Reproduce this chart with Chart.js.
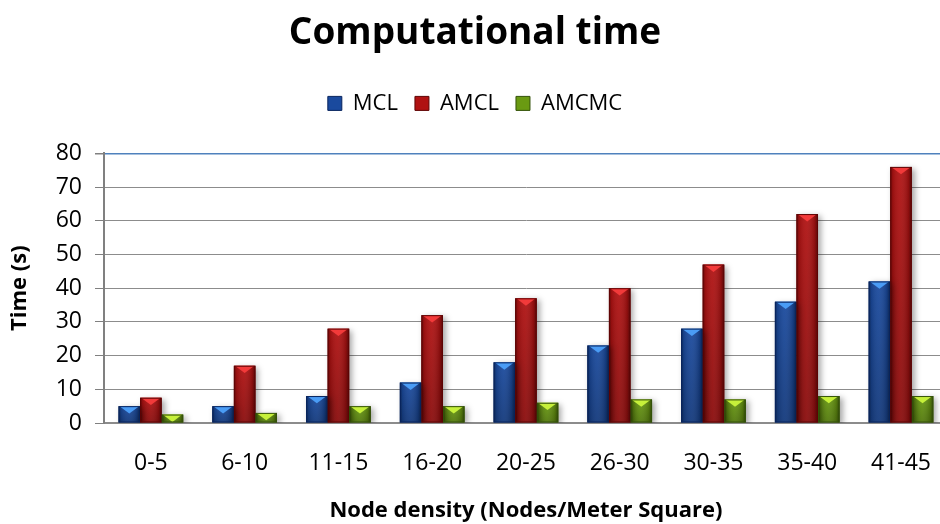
<!DOCTYPE html>
<html>
<head>
<meta charset="utf-8">
<title>Computational time</title>
<script src="https://cdn.jsdelivr.net/npm/chart.js@4.4.0/dist/chart.umd.min.js"></script>
<style>
  html, body { margin: 0; padding: 0; background: #fff; overflow: hidden; }
  #wrap { width: 940px; height: 524px; overflow: hidden; }
  #box { width: 950px; height: 524px; }
</style>
</head>
<body>
<div id="wrap"><div id="box"><canvas id="timeChart"></canvas></div></div>
<script>
const densityLabels = ['0-5', '6-10', '11-15', '16-20', '20-25', '26-30', '30-35', '35-40', '41-45'];
const mclTimes = [5, 5, 8, 12, 18, 23, 28, 36, 42];
const amclTimes = [7.5, 17, 28, 32, 37, 40, 47, 62, 76];
const amcmcTimes = [2.5, 3, 5, 5, 6, 7, 7, 8, 8];
const yMax = 80;
const yStep = 10;

const FONT = '"Open Sans", Lato, sans-serif';

// solid fill, dark edge, light top facet for each series
const palette = {
  MCL:   { fill: '#1a4a9e', edge: '#08245e', cap: '#4a9cf5' },
  AMCL:  { fill: '#b01212', edge: '#5e0404', cap: '#f23a3a' },
  AMCMC: { fill: '#6a9a12', edge: '#34520a', cap: '#c6f03a' }
};

// soft drop shadow under the bars
const barShadow = {
  id: 'barShadow',
  beforeDatasetsDraw(chart) {
    const ctx = chart.ctx;
    ctx.save();
    ctx.shadowColor = 'rgba(0,0,0,0.35)';
    ctx.shadowBlur = 6;
    ctx.shadowOffsetX = 3;
    ctx.shadowOffsetY = 2;
  },
  afterDatasetsDraw(chart) {
    chart.ctx.restore();
  }
};

// bevel shading on top of the flat bars
const bevelBars = {
  id: 'bevelBars',
  afterDatasetsDraw(chart) {
    const ctx = chart.ctx;
    chart.data.datasets.forEach((ds, i) => {
      const meta = chart.getDatasetMeta(i);
      const col = palette[ds.label];
      meta.data.forEach(bar => {
        const p = bar.getProps(['x', 'y', 'width', 'base'], true);
        const left = p.x - p.width / 2;
        const h = p.base - p.y;
        if (h <= 0) return;
        ctx.save();
        let g = ctx.createLinearGradient(left, 0, left + p.width, 0);
        g.addColorStop(0, 'rgba(0,0,0,0.45)');
        g.addColorStop(0.12, 'rgba(0,0,0,0.12)');
        g.addColorStop(0.45, 'rgba(255,255,255,0.06)');
        g.addColorStop(0.85, 'rgba(0,0,0,0.18)');
        g.addColorStop(1, 'rgba(0,0,0,0.5)');
        ctx.fillStyle = g;
        ctx.fillRect(left, p.y, p.width, h);
        g = ctx.createLinearGradient(0, p.y, 0, p.base);
        g.addColorStop(0, 'rgba(0,0,0,0)');
        g.addColorStop(1, 'rgba(0,0,0,0.2)');
        ctx.fillStyle = g;
        ctx.fillRect(left, p.y, p.width, h);
        const cap = Math.min(p.width * 0.34, h);
        ctx.beginPath();
        ctx.moveTo(left + 1, p.y);
        ctx.lineTo(left + p.width - 1, p.y);
        ctx.lineTo(p.x, p.y + cap);
        ctx.closePath();
        ctx.fillStyle = col.cap;
        ctx.fill();
        ctx.strokeStyle = col.edge;
        ctx.lineWidth = 1;
        ctx.strokeRect(left + 0.5, p.y + 0.5, p.width - 1, h - 1);
        ctx.restore();
      });
    });
  }
};

// extra room between the legend and the plot
const legendGap = {
  id: 'legendGap',
  beforeInit(chart) {
    const fit = chart.legend.fit;
    chart.legend.fit = function () {
      fit.call(this);
      this.height += 29;
    };
  }
};

const ctx = document.getElementById('timeChart').getContext('2d');
new Chart(ctx, {
  type: 'bar',
  data: {
    labels: densityLabels,
    datasets: [
      { label: 'MCL', data: mclTimes, backgroundColor: palette.MCL.fill },
      { label: 'AMCL', data: amclTimes, backgroundColor: palette.AMCL.fill },
      { label: 'AMCMC', data: amcmcTimes, backgroundColor: palette.AMCMC.fill }
    ]
  },
  options: {
    responsive: true,
    maintainAspectRatio: false,
    animation: false,
    datasets: { bar: { categoryPercentage: 0.69, barPercentage: 1.0 } },
    layout: { padding: { left: 0, right: 0, top: 0, bottom: 0 } },
    plugins: {
      title: {
        display: true,
        text: 'Computational time',
        color: '#000',
        font: { family: FONT, size: 37, weight: 'bold' },
        padding: { top: 11, bottom: 20 }
      },
      legend: {
        position: 'top',
        labels: {
          color: '#000',
          font: { family: FONT, size: 22 },
          boxWidth: 14,
          boxHeight: 14,
          padding: 17,
          generateLabels(chart) {
            return chart.data.datasets.map((ds, i) => ({
              text: ds.label,
              fillStyle: palette[ds.label].fill,
              strokeStyle: palette[ds.label].edge,
              lineWidth: 1,
              datasetIndex: i,
              fontColor: '#000'
            }));
          }
        }
      },
      tooltip: { enabled: false }
    },
    scales: {
      x: {
        grid: { display: false },
        border: { display: true, color: '#8c8c8c', width: 2 },
        ticks: { color: '#000', font: { family: FONT, size: 23 }, padding: 19 },
        title: {
          display: true,
          text: 'Node density (Nodes/Meter Square)',
          color: '#000',
          font: { family: FONT, size: 22, weight: 'bold' },
          padding: { top: 1, bottom: 0 }
        }
      },
      y: {
        min: 0,
        max: yMax,
        afterFit(scale) { scale.width = 104; },
        ticks: { stepSize: yStep, color: '#000', font: { family: FONT, size: 23 }, padding: 13 },
        grid: {
          color: c => (c.tick && c.tick.value === yMax ? '#4f81bd' : '#8c8c8c'),
          lineWidth: c => (c.tick && c.tick.value === yMax ? 1.5 : 1),
          tickColor: '#808080',
          tickLength: 9
        },
        border: { display: true, color: '#808080', width: 2 },
        title: {
          display: true,
          text: 'Time (s)',
          color: '#000',
          font: { family: FONT, size: 22, weight: 'bold' },
          padding: { top: 7, bottom: 0 }
        }
      }
    }
  },
  plugins: [barShadow, bevelBars, legendGap]
});
</script>
</body>
</html>
